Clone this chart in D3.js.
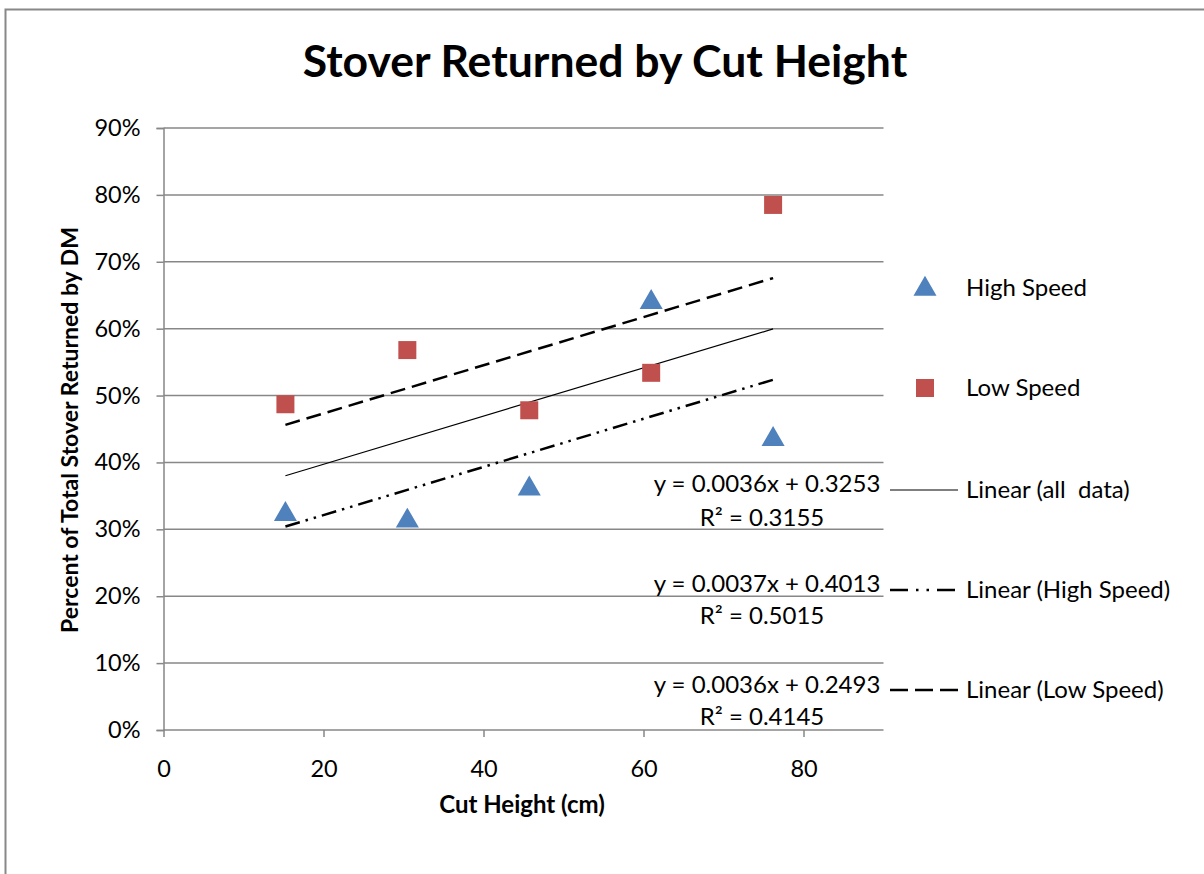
<!DOCTYPE html>
<html><head><meta charset="utf-8">
<script src="https://cdn.jsdelivr.net/npm/d3@7"></script>
<style>body{margin:0;background:#fff}svg{display:block}text{font-family:Lato,"Open Sans",sans-serif}</style>
</head><body>
<svg id="c" width="1204" height="874"></svg>
<script>
const cutHeights = [15.24, 30.48, 45.72, 60.96, 76.2];
const highSpeed = [0.324, 0.314, 0.362, 0.641, 0.436];
const lowSpeed = [0.487, 0.568, 0.478, 0.534, 0.785];
const yTicks = [0,0.1,0.2,0.3,0.4,0.5,0.6,0.7,0.8,0.9];
const xTicks = [0,20,40,60,80];
// trendline coefficients [slope, intercept] as drawn
const trendAll = [0.0036, 0.3253];
const trendHigh = [0.0036, 0.2493];
const trendLow = [0.0036, 0.4013];
const eqLabels = [
  ["y = 0.0036x + 0.3253","R² = 0.3155"],
  ["y = 0.0037x + 0.4013","R² = 0.5015"],
  ["y = 0.0036x + 0.2493","R² = 0.4145"]
];
const legendItems = ["High Speed","Low Speed","Linear (all  data)","Linear (High Speed)","Linear (Low Speed)"];

const svg = d3.select("#c");
const x = d3.scaleLinear().domain([0,90]).range([163.5,883.5]);
const y = d3.scaleLinear().domain([0,0.9]).range([730,128]);
const grid = "#878787";

// border
svg.append("path").attr("d","M5.5,874 V9.5 H1204").attr("fill","none").attr("stroke","#888").attr("stroke-width",2);

// title
svg.append("text").attr("x",605).attr("y",77).attr("text-anchor","middle")
  .attr("font-size",44.5).attr("font-weight","bold").text("Stover Returned by Cut Height");

// gridlines
svg.append("g").selectAll("line").data(yTicks.slice(1)).join("line")
  .attr("x1",x(0)).attr("x2",x(90)).attr("y1",d=>y(d)).attr("y2",d=>y(d))
  .attr("stroke",grid).attr("stroke-width",1.5);

// axes
const yAxis = svg.append("g").attr("transform",`translate(${x(0)},0)`)
  .call(d3.axisLeft(y).tickValues(yTicks).tickFormat(d3.format(".0%")).tickSize(7).tickPadding(16));
const xAxis = svg.append("g").attr("transform",`translate(0,${y(0)})`)
  .call(d3.axisBottom(x).tickValues(xTicks).tickSize(7).tickPadding(27));
[yAxis,xAxis].forEach(a=>{
  a.selectAll("path").attr("stroke",grid).attr("stroke-width",1.5);
  a.selectAll("line").attr("stroke",grid).attr("stroke-width",1.5);
  a.selectAll("text").attr("font-size",23.5).attr("fill","#000").attr("font-family","Lato");
});
xAxis.selectAll("text").attr("dy","0.55em");
xAxis.select(".domain").attr("d",`M${x(0)},0H${x(90)}`);

// axis titles
svg.append("text").attr("x",522).attr("y",813).attr("text-anchor","middle")
  .attr("font-size",24).attr("font-weight","bold").text("Cut Height (cm)");
svg.append("text").attr("transform","translate(78,430) rotate(-90)").attr("text-anchor","middle")
  .attr("font-size",23).attr("font-weight","bold").text("Percent of Total Stover Returned by DM");

// trendlines
const x0 = d3.min(cutHeights), x1 = d3.max(cutHeights);
const trends = [
  {c:trendAll, w:1.2, dash:null},
  {c:trendHigh, w:2.5, dash:"15,6,2.5,6,2.5,6"},
  {c:trendLow, w:2.5, dash:"15,7"}
];
trends.forEach(t=>{
  svg.append("line").attr("x1",x(x0)).attr("x2",x(x1))
    .attr("y1",y(t.c[0]*x0+t.c[1])).attr("y2",y(t.c[0]*x1+t.c[1]))
    .attr("stroke","#000").attr("stroke-width",t.w).attr("stroke-dasharray",t.dash);
});

// points
const tri = d3.symbol().type(d3.symbolTriangle).size(230);
svg.append("g").selectAll("path").data(cutHeights).join("path")
  .attr("d",tri).attr("transform",(d,i)=>`translate(${x(d)},${y(highSpeed[i])+1})`)
  .attr("fill","#4F81BD");
svg.append("g").selectAll("rect").data(cutHeights).join("rect")
  .attr("x",d=>x(d)-9).attr("y",(d,i)=>y(lowSpeed[i])-9).attr("width",18).attr("height",18)
  .attr("fill","#C0504D");

// equation labels
const eqY = [[492,526],[592,624],[693,725]];
eqLabels.forEach((l,i)=>{
  svg.append("text").attr("x",767).attr("y",eqY[i][0]).attr("text-anchor","middle").attr("font-size",24).text(l[0]);
  svg.append("text").attr("x",762).attr("y",eqY[i][1]).attr("text-anchor","middle").attr("font-size",24).text(l[1]);
});

// legend
const legY = [288,388,490,590,690];
const lg = svg.append("g");
lg.append("path").attr("d",tri).attr("transform",`translate(925,${legY[0]+1})`).attr("fill","#4F81BD");
lg.append("rect").attr("x",916).attr("y",legY[1]-9).attr("width",18).attr("height",18).attr("fill","#C0504D");
lg.append("line").attr("x1",890).attr("x2",958).attr("y1",legY[2]).attr("y2",legY[2]).attr("stroke","#000").attr("stroke-width",1.2);
lg.append("line").attr("x1",890).attr("x2",958).attr("y1",legY[3]).attr("y2",legY[3]).attr("stroke","#000").attr("stroke-width",2.5).attr("stroke-dasharray","18,8,2.5,8,2.5,8");
lg.append("line").attr("x1",890).attr("x2",958).attr("y1",legY[4]).attr("y2",legY[4]).attr("stroke","#000").attr("stroke-width",2.5).attr("stroke-dasharray","18,7");
lg.selectAll("text").data(legendItems).join("text")
  .attr("x",966).attr("y",(d,i)=>legY[i]+8).attr("font-size",24)
  .style("white-space","pre").text(d=>d);
</script>
</body></html>
